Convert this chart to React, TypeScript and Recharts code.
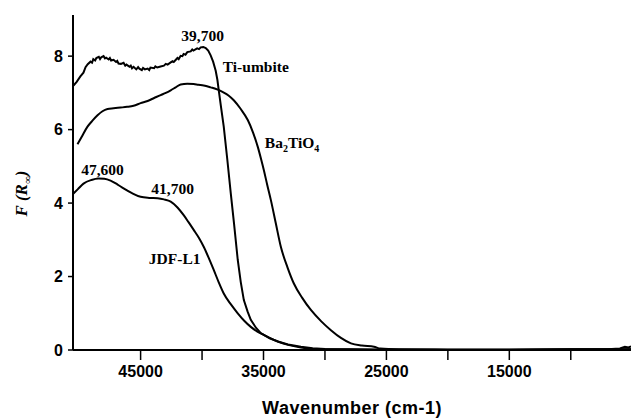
import React from 'react';
import { LineChart, Line, XAxis, YAxis, ReferenceDot, Label } from 'recharts';

// F(R) spectra: [wavenumber, F(R)]
const tiUmbite: [number, number][] = [
  [50460, 7.2], [50200, 7.3], [49900, 7.45], [49650, 7.55], [49480, 7.7], [49300, 7.78],
  [49075, 7.85], [48950, 7.82], [48850, 7.92], [48700, 7.88], [48600, 7.95], [48400, 7.98],
  [48300, 7.92], [48200, 7.97], [48015, 8.0], [47900, 7.94], [47800, 7.96], [47600, 7.91],
  [47500, 7.95], [47400, 7.88], [47200, 7.9], [47000, 7.84], [46900, 7.87], [46800, 7.8],
  [46600, 7.79], [46385, 7.82], [46250, 7.74], [46150, 7.77], [45900, 7.71], [45800, 7.74],
  [45700, 7.67], [45570, 7.71], [45350, 7.64], [45200, 7.7], [45100, 7.66], [44900, 7.62],
  [44800, 7.68], [44650, 7.64], [44430, 7.66], [44300, 7.62], [44200, 7.69], [43900, 7.67],
  [43800, 7.72], [43650, 7.69], [43370, 7.72], [43100, 7.74], [42950, 7.79], [42800, 7.77],
  [42550, 7.83], [42400, 7.86], [42300, 7.84], [42000, 7.95], [41900, 7.92], [41740, 8.01],
  [41600, 8.0], [41500, 8.06], [41350, 8.04], [41200, 8.11], [40925, 8.13], [40800, 8.18],
  [40700, 8.15], [40400, 8.21], [40250, 8.19], [40110, 8.24], [39900, 8.25], [39700, 8.22],
  [39500, 8.15], [39300, 8.02], [39100, 7.85], [38890, 7.6], [38750, 7.35], [38640, 7.07],
  [38450, 6.6], [38235, 6.08], [37950, 5.2], [37665, 4.27], [37400, 3.45], [37095, 2.45],
  [36850, 1.85], [36600, 1.36], [36300, 1.05], [36035, 0.82], [35600, 0.6], [35220, 0.46],
  [34500, 0.32], [33835, 0.23], [33000, 0.15], [31960, 0.09], [31000, 0.05], [30000, 0.03],
  [28000, 0.02], [25000, 0.01], [20000, 0.01], [15000, 0.01], [10000, 0.02], [7000, 0.02],
  [6000, 0.04], [5600, 0.09], [5300, 0.07], [5100, 0.1],
];

const ba2TiO4: [number, number][] = [
  [50135, 5.6], [49800, 5.8], [49320, 6.08], [48900, 6.25], [48505, 6.39], [48100, 6.5],
  [47690, 6.56], [47200, 6.58], [46630, 6.6], [46100, 6.62], [45570, 6.65], [45000, 6.72],
  [44430, 6.78], [43900, 6.86], [43370, 6.94], [42950, 7.0], [42550, 7.07], [42150, 7.15],
  [41740, 7.23], [41200, 7.25], [40680, 7.24], [40300, 7.22], [39865, 7.2], [39300, 7.15],
  [38725, 7.09], [38300, 7.02], [37850, 6.93], [37420, 6.8], [36850, 6.56], [36280, 6.26],
  [35850, 5.92], [35465, 5.53], [35200, 5.2], [34975, 4.9], [34700, 4.5], [34400, 4.08],
  [34000, 3.45], [33590, 2.81], [33050, 2.25], [32530, 1.81], [31850, 1.42], [31145, 1.09],
  [30300, 0.78], [29515, 0.54], [28700, 0.33], [27885, 0.18], [27000, 0.12], [26010, 0.09],
  [25500, 0.04], [24000, 0.02], [20000, 0.01], [15000, 0.01], [10000, 0.02], [5100, 0.02],
];

const jdfL1: [number, number][] = [
  [50460, 4.26], [50100, 4.38], [49645, 4.53], [49000, 4.63], [48420, 4.67], [47950, 4.66],
  [47445, 4.61], [46900, 4.51], [46385, 4.4], [45700, 4.27], [45000, 4.17], [44300, 4.14],
  [43615, 4.13], [43100, 4.1], [42550, 4.04], [42000, 3.88], [41495, 3.67], [41100, 3.48],
  [40680, 3.27], [40250, 3.05], [39865, 2.81], [39450, 2.5], [39050, 2.18], [38650, 1.85],
  [38235, 1.54], [37650, 1.24], [37095, 1.0], [36550, 0.79], [36035, 0.63], [35500, 0.5],
  [34975, 0.41], [34500, 0.33], [33835, 0.23], [33000, 0.14], [31960, 0.07], [31000, 0.03],
  [30000, 0.02], [25000, 0.01], [15000, 0.01], [5100, 0.02],
];

const xTicks = [45000, 40000, 35000, 30000, 25000, 20000, 15000, 10000];
const xLabelled = [45000, 35000, 25000, 15000];
const yTicks = [0, 2, 4, 6, 8];

const toPoints = (arr: [number, number][]) => arr.map(([w, f]) => ({ w, f }));

const sans = '"Liberation Sans", Arial, sans-serif';
const serif = '"Liberation Serif", "Times New Roman", serif';

const annText = (content: React.ReactNode, anchor: 'start' | 'middle' = 'middle') =>
  (props: any) => (
    <text x={props.cx} y={props.cy} textAnchor={anchor} fontFamily={serif} fontWeight="bold" fontSize={15.5} fill="#000">
      {content}
    </text>
  );

export default function App() {
  const axisStroke = { stroke: '#000', strokeWidth: 2 };
  return (
    <div style={{ position: 'absolute', left: 0, top: 0, background: '#fff' }}>
      <LineChart width={631} height={419} margin={{ top: 15, right: 0, bottom: 0, left: 0 }}>
        <XAxis
          dataKey="w"
          type="number"
          domain={[5100, 50500]}
          reversed
          allowDataOverflow
          ticks={xTicks}
          tickFormatter={(v: number) => (xLabelled.includes(v) ? String(v) : '')}
          tickSize={10}
          tickMargin={6}
          height={69}
          axisLine={axisStroke}
          tickLine={{ stroke: '#000', strokeWidth: 1.5 }}
          tick={{ fill: '#000', fontFamily: sans, fontWeight: 'bold', fontSize: 16 }}
        >
          <Label
            content={({ viewBox }: any) => (
              <text
                x={viewBox.x + viewBox.width / 2}
                y={viewBox.y + 64}
                textAnchor="middle"
                fontFamily={sans}
                fontWeight="bold"
                fontSize={18}
                letterSpacing={0.5}
                fill="#000"
              >
                Wavenumber (cm-1)
              </text>
            )}
          />
        </XAxis>
        <XAxis
          xAxisId="top"
          orientation="top"
          type="number"
          domain={[5100, 50500]}
          reversed
          height={0}
          tick={false}
          tickLine={false}
          axisLine={axisStroke}
        />
        <YAxis
          type="number"
          domain={[0, 9.12]}
          ticks={yTicks}
          width={73}
          tickSize={5}
          tickMargin={5}
          allowDataOverflow
          axisLine={axisStroke}
          tickLine={{ stroke: '#000', strokeWidth: 1.5 }}
          tick={{ fill: '#000', fontFamily: sans, fontWeight: 'bold', fontSize: 16 }}
        >
          <Label
            content={({ viewBox }: any) => {
              const cx = 27;
              const cy = viewBox.y + viewBox.height / 2 + 11;
              return (
                <text
                  x={cx}
                  y={cy}
                  transform={`rotate(-90 ${cx} ${cy})`}
                  textAnchor="middle"
                  fontFamily={serif}
                  fontWeight="bold"
                  fontStyle="italic"
                  fontSize={17}
                  fill="#000"
                >
                  F (R<tspan dy={4} fontSize={11}>∞</tspan><tspan dy={-4}>)</tspan>
                </text>
              );
            }}
          />
        </YAxis>
        <Line data={toPoints(tiUmbite)} dataKey="f" type="linear" stroke="#000" strokeWidth={2} dot={false} isAnimationActive={false} />
        <Line data={toPoints(ba2TiO4)} dataKey="f" type="monotone" stroke="#000" strokeWidth={2} dot={false} isAnimationActive={false} />
        <Line data={toPoints(jdfL1)} dataKey="f" type="monotone" stroke="#000" strokeWidth={2} dot={false} isAnimationActive={false} />
        <ReferenceDot x={39950} y={8.41} r={0} shape={annText('39,700')} />
        <ReferenceDot x={38317} y={7.57} shape={annText('Ti-umbite', 'start')} />
        <ReferenceDot
          x={34894}
          y={5.5}
          shape={annText(
            <>
              Ba<tspan dy={4} fontSize={10}>2</tspan>
              <tspan dy={-4}>TiO</tspan>
              <tspan dy={4} fontSize={10}>4</tspan>
            </>,
            'start'
          )}
        />
        <ReferenceDot x={48097} y={4.76} shape={annText('47,600')} />
        <ReferenceDot x={42392} y={4.25} shape={annText('41,700')} />
        <ReferenceDot x={42229} y={2.34} shape={annText('JDF-L1')} />
      </LineChart>
    </div>
  );
}
